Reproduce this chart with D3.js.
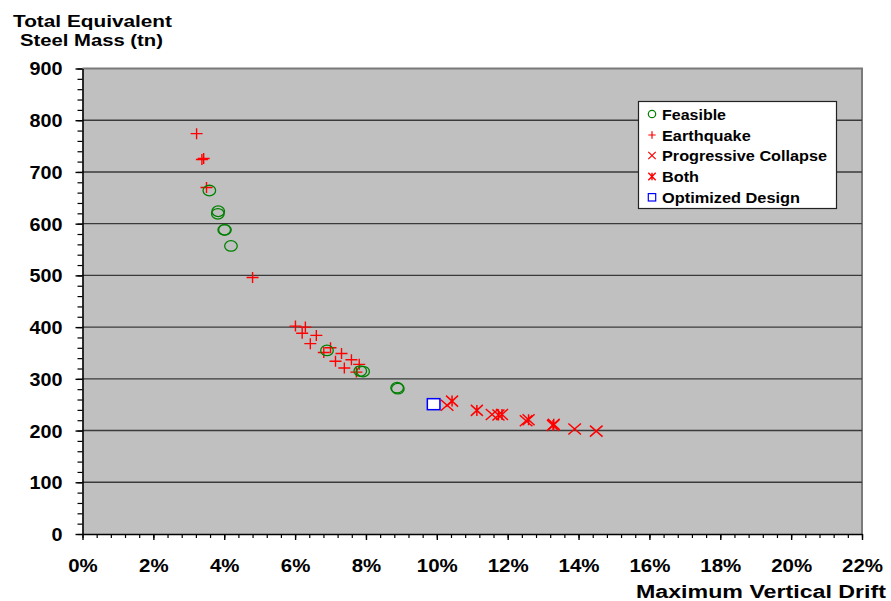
<!DOCTYPE html>
<html><head><meta charset="utf-8">
<script src="https://cdn.jsdelivr.net/npm/d3@7"></script>
<style>
body{margin:0;background:#fff}
svg text{font-family:"Liberation Sans",Arial,Helvetica,sans-serif;font-weight:bold;fill:#000}
</style>
</head><body>
<svg id="chart" width="891" height="601"></svg>
<script>
// ---- data (drift in %, mass in tn) ----
const feasibleDrift = [3.58, 3.83, 3.82, 4.00, 4.02, 4.19, 6.90, 7.84, 7.92, 8.88, 8.90];
const feasibleMass  = [664, 624, 619, 588, 588, 557, 355, 315, 314, 283, 281];
const earthquakeDrift = [3.22, 3.37, 3.42, 3.50, 4.80, 6.01, 6.29, 6.20, 6.60, 6.43, 7.00, 6.81, 7.31, 7.14, 7.59, 7.81, 7.39, 7.73];
const earthquakeMass  = [774, 724, 726, 670, 496, 402, 400, 388, 384, 368, 360, 351, 349, 334, 337, 328, 321, 313];
const collapseDrift = [10.29, 11.56, 12.52, 13.89, 14.50];
const collapseMass  = [249, 231, 219, 203, 199];
const bothDrift = [10.43, 11.13, 11.74, 11.84, 12.59, 13.30, 13.28];
const bothMass  = [257, 239, 230, 231, 221, 212, 210];
const optimizedDrift = [9.91];
const optimizedMass  = [251];

const xTicks = [0, 2, 4, 6, 8, 10, 12, 14, 16, 18, 20, 22];
const yTicks = [0, 100, 200, 300, 400, 500, 600, 700, 800, 900];
const legendLabels = ["Feasible", "Earthquake", "Progressive Collapse", "Both", "Optimized Design"];

// ---- layout ----
const svg = d3.select("#chart");
const L = 82.5, R = 862, T = 68.5, B = 534;
const x = d3.scaleLinear().domain([0, 22]).range([L, R]);
const y = d3.scaleLinear().domain([0, 900]).range([B, T]);

// plot background
svg.append("rect").attr("x", L).attr("y", T).attr("width", R - L).attr("height", B - T)
  .attr("fill", "#c0c0c0");
// top/right border
svg.append("path").attr("d", `M${L},${T}H${R}V${B}`).attr("fill", "none")
  .attr("stroke", "#7a7a7a").attr("stroke-width", 2);

// gridlines
svg.append("g").selectAll("line").data(yTicks.filter(d => d > 0 && d < 900)).join("line")
  .attr("x1", L).attr("x2", R).attr("y1", d => y(d)).attr("y2", d => y(d))
  .attr("stroke", "#3a3a3a").attr("stroke-width", 1.4);

// minor ticks
const yMinor = d3.range(0, 901, 20);
const xMinor = d3.range(0, 22.001, 0.4);
svg.append("g").attr("transform", `translate(${L},0)`)
  .call(d3.axisLeft(y).tickValues(yMinor).tickSize(5).tickFormat(""))
  .call(g => g.select(".domain").remove())
  .call(g => g.selectAll("line").attr("stroke", "#000").attr("stroke-width", 1.2));
svg.append("g").attr("transform", `translate(0,${B})`)
  .call(d3.axisBottom(x).tickValues(xMinor).tickSize(4).tickFormat(""))
  .call(g => g.select(".domain").remove())
  .call(g => g.selectAll("line").attr("stroke", "#000").attr("stroke-width", 1.2));

// major axes
const yAxis = svg.append("g").attr("transform", `translate(${L},0)`)
  .call(d3.axisLeft(y).tickValues(yTicks).tickSize(7).tickPadding(12).tickSizeOuter(0));
yAxis.select(".domain").attr("stroke", "#000").attr("stroke-width", 1.6);
yAxis.selectAll("line").attr("stroke", "#000").attr("stroke-width", 1.4);
yAxis.selectAll("text").attr("font-size", 18).attr("dy", "0.36em").attr("x", -20)
  .attr("textLength", d => String(d).length * 11).attr("lengthAdjust", "spacingAndGlyphs")
  .style("font-family", '"Liberation Sans",Arial,sans-serif').style("font-weight", "bold");

const xAxis = svg.append("g").attr("transform", `translate(0,${B})`)
  .call(d3.axisBottom(x).tickValues(xTicks).tickSize(6).tickSizeOuter(0).tickFormat(d => d + "%"));
xAxis.select(".domain").attr("stroke", "#000").attr("stroke-width", 1.6);
xAxis.selectAll("line").attr("stroke", "#000").attr("stroke-width", 1.4);
xAxis.selectAll("text").attr("font-size", 18).attr("y", 38).attr("dy", 0)
  .attr("textLength", d => String(d).length * 11.5 + 18).attr("lengthAdjust", "spacingAndGlyphs")
  .style("font-family", '"Liberation Sans",Arial,sans-serif').style("font-weight", "bold");

// axis titles
svg.append("text").attr("x", 13).attr("y", 27).attr("font-size", 16.5)
  .attr("textLength", 159).attr("lengthAdjust", "spacingAndGlyphs").text("Total Equivalent");
svg.append("text").attr("x", 20).attr("y", 46).attr("font-size", 16.5)
  .attr("textLength", 143).attr("lengthAdjust", "spacingAndGlyphs").text("Steel Mass (tn)");
svg.append("text").attr("x", 886).attr("y", 598).attr("font-size", 18).attr("text-anchor", "end")
  .attr("textLength", 250).attr("lengthAdjust", "spacingAndGlyphs").text("Maximum Vertical Drift");

// ---- markers ----
const red = "#ff0000", green = "#008000", blue = "#0000ff";
function plusPath(w, h) { return `M${-w},0H${w}M0,${-h}V${h}`; }
function crossPath(w, h) { return `M${-w},${-h}L${w},${h}M${-w},${h}L${w},${-h}`; }
function starPath(w, h) { return crossPath(w, h) + `M0,${-h}V${h}`; }

const marks = svg.append("g");
marks.selectAll(".eq").data(d3.range(earthquakeDrift.length)).join("path")
  .attr("transform", i => `translate(${x(earthquakeDrift[i])},${y(earthquakeMass[i])})`)
  .attr("d", plusPath(6, 5.5)).attr("stroke", red).attr("stroke-width", 1.4).attr("fill", "none");
marks.selectAll(".fe").data(d3.range(feasibleDrift.length)).join("ellipse")
  .attr("cx", i => x(feasibleDrift[i])).attr("cy", i => y(feasibleMass[i]))
  .attr("rx", 6.3).attr("ry", 5.3).attr("fill", "none").attr("stroke", green).attr("stroke-width", 1.3);
marks.selectAll(".pc").data(d3.range(collapseDrift.length)).join("path")
  .attr("transform", i => `translate(${x(collapseDrift[i])},${y(collapseMass[i])})`)
  .attr("d", crossPath(6.3, 5.5)).attr("stroke", red).attr("stroke-width", 1.5).attr("fill", "none");
marks.selectAll(".bo").data(d3.range(bothDrift.length)).join("path")
  .attr("transform", i => `translate(${x(bothDrift[i])},${y(bothMass[i])})`)
  .attr("d", starPath(6, 5.5)).attr("stroke", red).attr("stroke-width", 1.5).attr("fill", "none");
marks.selectAll(".op").data(d3.range(optimizedDrift.length)).join("rect")
  .attr("x", i => x(optimizedDrift[i]) - 6.3).attr("y", i => y(optimizedMass[i]) - 5.5)
  .attr("width", 12.6).attr("height", 11).attr("fill", "#fff").attr("stroke", blue).attr("stroke-width", 1.5);

// ---- legend ----
const lg = svg.append("g");
lg.append("rect").attr("x", 638.5).attr("y", 101.5).attr("width", 198).attr("height", 107)
  .attr("fill", "#fff").attr("stroke", "#222").attr("stroke-width", 1.2);
const baselines = [119.5, 140.5, 161, 182, 202.8];
const legendWidths = [64, 88.7, 165, 37, 138];
const sx = 652;
legendLabels.forEach((lab, i) => {
  const cy = baselines[i] - 5.5;
  const g = lg.append("g");
  if (i === 0) g.append("circle").attr("cx", sx).attr("cy", cy).attr("r", 3.7).attr("fill", "none").attr("stroke", green).attr("stroke-width", 1.2);
  if (i === 1) g.append("path").attr("transform", `translate(${sx},${cy})`).attr("d", plusPath(3.7, 3.7)).attr("stroke", red).attr("stroke-width", 1.2);
  if (i === 2) g.append("path").attr("transform", `translate(${sx},${cy})`).attr("d", crossPath(3.7, 3.7)).attr("stroke", red).attr("stroke-width", 1.2);
  if (i === 3) g.append("path").attr("transform", `translate(${sx},${cy})`).attr("d", starPath(3.7, 3.7)).attr("stroke", red).attr("stroke-width", 1.4);
  if (i === 4) g.append("rect").attr("x", sx - 3.7).attr("y", cy - 3.7).attr("width", 7.4).attr("height", 7.4).attr("fill", "#fff").attr("stroke", blue).attr("stroke-width", 1.2);
  g.append("text").attr("x", 662).attr("y", baselines[i]).attr("font-size", 15.5)
    .attr("textLength", legendWidths[i]).attr("lengthAdjust", "spacingAndGlyphs").text(lab);
});
</script>
</body></html>
